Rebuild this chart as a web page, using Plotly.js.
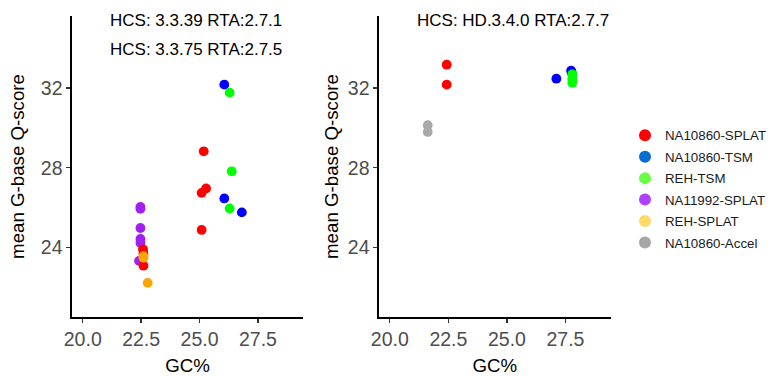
<!DOCTYPE html>
<html>
<head>
<meta charset="utf-8">
<script src="https://cdn.plot.ly/plotly-3.0.1.min.js"></script>
<style>html,body{margin:0;padding:0;background:#fff;overflow:hidden;}#chart{width:772px;height:376px;}</style>
</head>
<body>
<div id="chart"></div>
<script>
// ---- Data ----
// Left panel (HCS 3.3.39 / 3.3.75)
const leftNA10860SplatX = [25.18, 25.28, 25.09, 25.09, 22.58, 22.60, 22.60];
const leftNA10860SplatY = [28.82, 26.96, 26.74, 24.88, 23.91, 23.70, 23.09];
const leftNA10860TsmX = [26.06, 26.06, 26.81];
const leftNA10860TsmY = [32.16, 26.46, 25.76];
const leftRehTsmX = [26.29, 26.38, 26.29];
const leftRehTsmY = [31.76, 27.82, 25.96];
const leftNA11992SplatX = [22.47, 22.47, 22.47, 22.47, 22.47, 22.41];
const leftNA11992SplatY = [26.03, 25.94, 24.98, 24.43, 24.24, 23.33];
const leftRehSplatX = [22.60, 22.60, 22.78];
const leftRehSplatY = [23.57, 23.49, 22.23];
// Right panel (HCS HD.3.4.0)
const rightNA10860SplatX = [22.43, 22.43];
const rightNA10860SplatY = [33.16, 32.16];
const rightAccelX = [21.62, 21.62];
const rightAccelY = [30.13, 29.79];
const rightNA10860TsmX = [27.11, 27.74, 27.77];
const rightNA10860TsmY = [32.46, 32.86, 32.76];
const rightRehTsmX = [27.79, 27.79, 27.79];
const rightRehTsmY = [32.68, 32.46, 32.26];

const legendNames = ["NA10860-SPLAT", "NA10860-TSM", "REH-TSM", "NA11992-SPLAT", "REH-SPLAT", "NA10860-Accel"];
const legendColors = ["#FF0000", "#0A6ECF", "#66FF44", "#B040FF", "#FFD966", "#A6A6A6"];
const pointColors = {"NA10860-SPLAT":"#FF0000","NA10860-TSM":"#0000FF","REH-TSM":"#00FF00","NA11992-SPLAT":"#A020F0","REH-SPLAT":"#FFA500","NA10860-Accel":"#AAAAAA"};
const xTicks = [20.0, 22.5, 25.0, 27.5];
const xTickText = ["20.0", "22.5", "25.0", "27.5"];
const yTicks = [24, 28, 32];
const panelNotes = [
  {panel: 1, x: 24.83, y: 35.38, text: "HCS: 3.3.39 RTA:2.7.1"},
  {panel: 1, x: 24.83, y: 33.93, text: "HCS: 3.3.75 RTA:2.7.5"},
  {panel: 2, x: 25.26, y: 35.38, text: "HCS: HD.3.4.0 RTA:2.7.7"}
];

function pts(x, y, name, xa, ya) {
  return {type: "scatter", mode: "markers", x: x, y: y, name: name,
    xaxis: xa, yaxis: ya, showlegend: false, hoverinfo: "x+y+name",
    marker: {color: pointColors[name], size: 9.8, line: {width: 0}}};
}

const traces = [
  pts(leftNA11992SplatX, leftNA11992SplatY, "NA11992-SPLAT", "x", "y"),
  pts(leftNA10860SplatX, leftNA10860SplatY, "NA10860-SPLAT", "x", "y"),
  pts(leftRehSplatX, leftRehSplatY, "REH-SPLAT", "x", "y"),
  pts(leftNA10860TsmX, leftNA10860TsmY, "NA10860-TSM", "x", "y"),
  pts(leftRehTsmX, leftRehTsmY, "REH-TSM", "x", "y"),
  pts(rightAccelX, rightAccelY, "NA10860-Accel", "x2", "y2"),
  pts(rightNA10860SplatX, rightNA10860SplatY, "NA10860-SPLAT", "x2", "y2"),
  pts(rightNA10860TsmX, rightNA10860TsmY, "NA10860-TSM", "x2", "y2"),
  pts(rightRehTsmX, rightRehTsmY, "REH-TSM", "x2", "y2")
];
legendNames.forEach((n, i) => {
  traces.push({type: "scatter", mode: "markers", x: [null], y: [null], name: n,
    legendgroup: "g" + i, xaxis: "x", yaxis: "y", showlegend: true, hoverinfo: "skip",
    marker: {color: legendColors[i], size: 12}});
});

const W = 772, H = 376;
const FONT = "Liberation Sans, Arial, sans-serif";
const tickFont = {family: FONT, size: 19.5, color: "#4D4D4D"};
const titleFont = {family: FONT, size: 18.7, color: "#000"};
function xax(domain) {
  return {domain: domain, range: [19.54, 29.43], showgrid: false, zeroline: false,
    showline: true, linecolor: "#000", linewidth: 1.6, ticks: "outside", ticklen: 4,
    tickwidth: 1.3, tickcolor: "#333", tickvals: xTicks, ticktext: xTickText,
    tickfont: tickFont, title: {text: "GC%", font: titleFont, standoff: 11}};
}
function yax(anchor, standoff) {
  return {domain: [1 - 317/H, 1 - 16/H], range: [20.52, 35.6], anchor: anchor,
    showgrid: false, zeroline: false, showline: true, linecolor: "#000", linewidth: 1.6,
    ticks: "outside", ticklen: 4, tickwidth: 1.3, tickcolor: "#333", tickvals: yTicks,
    tickfont: tickFont, title: {text: "mean G-base Q-score", font: titleFont, standoff: standoff}};
}
const layout = {
  width: W, height: H, margin: {l: 0, r: 0, t: 0, b: 0},
  paper_bgcolor: "#fff", plot_bgcolor: "#fff",
  xaxis: Object.assign(xax([72/W, 303/W]), {anchor: "y"}),
  yaxis: yax("x", 11),
  xaxis2: Object.assign(xax([379/W, 610.7/W]), {anchor: "y2"}),
  yaxis2: yax("x2", 4),
  showlegend: true,
  legend: {x: 1, y: 1 - 120/H, xanchor: "right", yanchor: "top",
    font: {family: FONT, size: 13.3, color: "#1a1a1a"},
    tracegroupgap: 1.2, itemwidth: 30, bgcolor: "rgba(0,0,0,0)"},
  annotations: panelNotes.map(a => ({
    xref: a.panel === 1 ? "x" : "x2", yref: a.panel === 1 ? "y" : "y2",
    x: a.x, y: a.y, text: a.text, showarrow: false,
    font: {family: FONT, size: 17, color: "#000"}
  }))
};
Plotly.newPlot("chart", traces, layout, {displayModeBar: false, staticPlot: true});
</script>
</body>
</html>
